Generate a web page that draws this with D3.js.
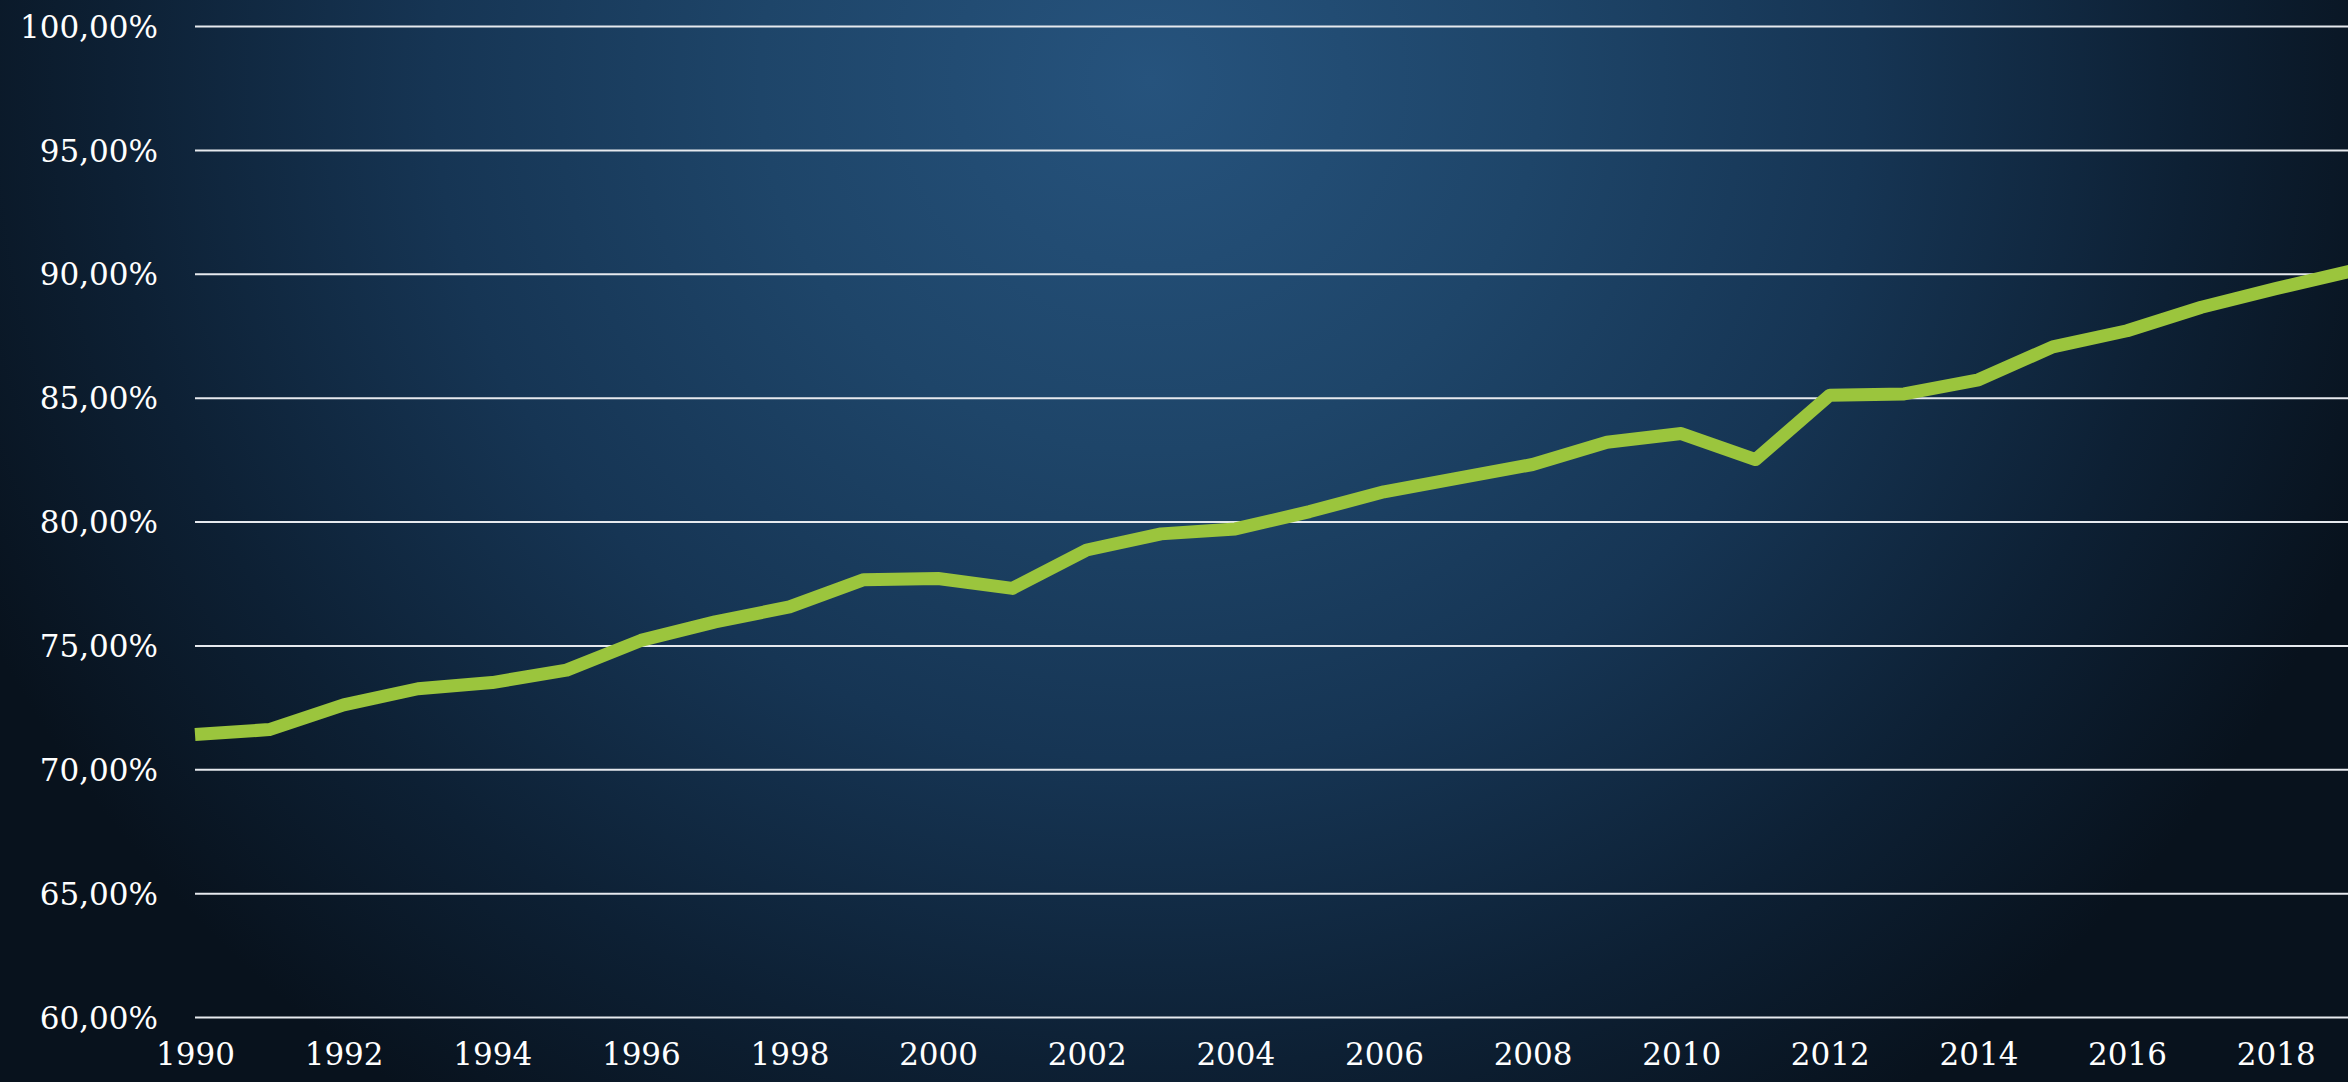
<!DOCTYPE html>
<html>
<head>
<meta charset="utf-8">
<script src="https://cdn.jsdelivr.net/npm/d3@7"></script>
<style>
  html, body { margin: 0; padding: 0; background: #0a1624; overflow: hidden; }
  svg { display: block; }
</style>
</head>
<body>
<svg id="chart" width="2348" height="1082"></svg>
<script>
const years = [1990,1991,1992,1993,1994,1995,1996,1997,1998,1999,2000,2001,2002,2003,2004,2005,2006,2007,2008,2009,2010,2011,2012,2013,2014,2015,2016,2017,2018,2019];
const values = [71.4,71.6,72.6,73.25,73.5,74.0,75.2,75.95,76.55,77.65,77.7,77.3,78.85,79.5,79.7,80.4,81.2,81.75,82.3,83.2,83.55,82.5,85.1,85.15,85.72,87.05,87.7,88.65,89.4,90.1];
const yTicks = [60,65,70,75,80,85,90,95,100];
const xTickYears = [1990,1992,1994,1996,1998,2000,2002,2004,2006,2008,2010,2012,2014,2016,2018];

const W = 2348, H = 1082;
const svg = d3.select("#chart");

// background
const defs = svg.append("defs");
const rg = defs.append("radialGradient").attr("id","bg")
  .attr("gradientUnits","userSpaceOnUse")
  .attr("cx",1150).attr("cy",80).attr("r",1300)
  .attr("gradientTransform","translate(1150,80) scale(1,0.95) translate(-1150,-80)");
rg.append("stop").attr("offset","0").attr("stop-color","#26537d");
rg.append("stop").attr("offset","0.3").attr("stop-color","#1e4569");
rg.append("stop").attr("offset","0.55").attr("stop-color","#163554");
rg.append("stop").attr("offset","0.8").attr("stop-color","#0d2034");
rg.append("stop").attr("offset","1").attr("stop-color","#08121d");
svg.append("rect").attr("width",W).attr("height",H).attr("fill","url(#bg)");

const x = d3.scaleLinear().domain([1990,2019]).range([195, 2350]);
const y = d3.scaleLinear().domain([60,100]).range([1017, 26]);

const fmt = v => d3.format(".2f")(v).replace(".", ",") + "%";

// gridlines
const yAxis = d3.axisLeft(y).tickValues(yTicks).tickSize(-(W - 195 + 10)).tickPadding(37).tickFormat(fmt);
const gy = svg.append("g").attr("transform","translate(195,0)").call(yAxis);
gy.select(".domain").remove();
gy.selectAll(".tick line").attr("stroke","#e6e9ee").attr("stroke-width",2);
gy.selectAll(".tick text")
  .attr("fill","#ffffff")
  .style("font-family","'DejaVu Serif', serif")
  .style("font-size","31px")
  .attr("dy","0.36em");

// x axis labels
const xAxis = d3.axisBottom(x).tickValues(xTickYears).tickSize(0).tickPadding(0).tickFormat(d3.format("d"));
const gx = svg.append("g").attr("transform","translate(0,1017)").call(xAxis);
gx.select(".domain").remove();
gx.selectAll(".tick text")
  .attr("fill","#ffffff")
  .attr("y", 48)
  .attr("dy", 0)
  .style("font-family","'DejaVu Serif', serif")
  .style("font-size","31px");

// line
const data = years.map((yr,i) => ({yr, v: values[i]}));
svg.append("path")
  .datum(data)
  .attr("fill","none")
  .attr("stroke","#9bc53d")
  .attr("stroke-width",13)
  .attr("stroke-linejoin","round")
  .attr("d", d3.line().x(d => x(d.yr)).y(d => y(d.v)));
</script>
</body>
</html>
